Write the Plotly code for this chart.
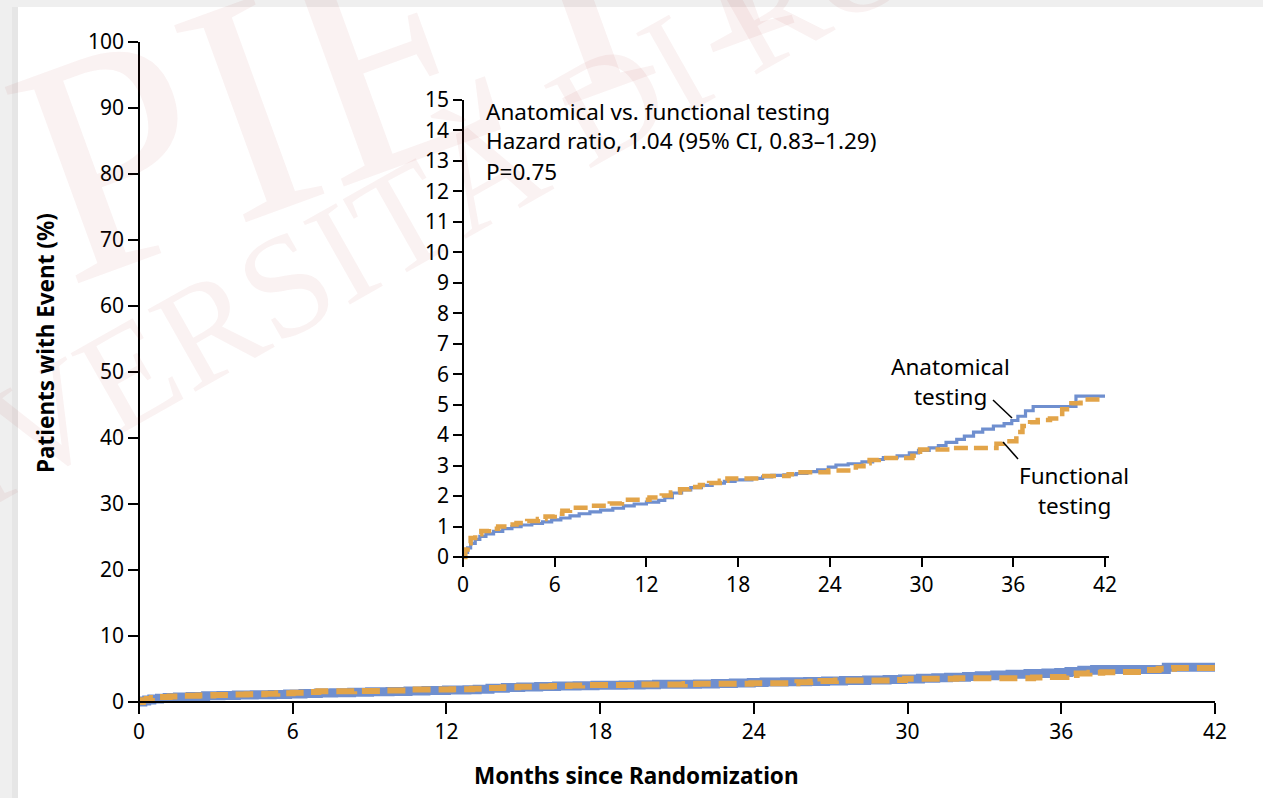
import plotly.graph_objects as go

# ---------------- data ----------------
months_anatomical = [0, 0.15, 0.3, 0.5, 0.8, 1.1, 1.5, 2.0, 2.6, 3.2,
                     3.8, 4.5, 5.2, 5.8, 6.4, 7.0, 7.6, 8.3, 9.0, 9.8,
                     10.5, 11.2, 12.0, 12.8, 13.2, 13.7, 14.3, 14.9, 15.6, 16.3,
                     17.1, 17.8, 18.9, 19.6, 20.2, 21.0, 21.8, 22.5, 23.2, 23.9,
                     24.4, 25.2, 26.1, 26.8, 27.5, 28.4, 29.2, 29.8, 30.5, 31.1,
                     31.6, 32.3, 32.8, 33.4, 34.0, 34.7, 35.4, 35.9, 36.3, 36.8,
                     37.3, 40.1, 42.0]
pct_anatomical = [0, 0.15, 0.3, 0.45, 0.58, 0.68, 0.76, 0.84, 0.93, 1.0,
                  1.05, 1.1, 1.15, 1.22, 1.28, 1.35, 1.42, 1.48, 1.54, 1.6,
                  1.68, 1.74, 1.8, 1.86, 1.95, 2.1, 2.2, 2.28, 2.35, 2.42,
                  2.48, 2.53, 2.58, 2.63, 2.68, 2.7, 2.74, 2.8, 2.86, 2.95,
                  3.02, 3.06, 3.12, 3.2, 3.26, 3.32, 3.42, 3.5, 3.58, 3.66,
                  3.76, 3.86, 3.97, 4.1, 4.2, 4.3, 4.38, 4.48, 4.62, 4.8,
                  4.94, 5.28, 5.28]

months_functional = [0, 0.15, 0.3, 0.5, 0.8, 1.2, 1.7, 2.3, 2.9, 3.5,
                     4.2, 4.9, 5.4, 6.0, 6.5, 7.0, 8.4, 9.6, 10.4, 12.2,
                     13.0, 13.6, 14.2, 14.8, 15.5, 16.1, 16.8, 17.3, 19.4, 21.3,
                     21.8, 23.9, 25.7, 26.2, 26.6, 27.2, 29.4, 29.9, 31.9, 34.9,
                     35.3, 36.2, 36.6, 37.1, 37.6, 38.4, 39.2, 39.8, 40.4, 42.0]
pct_functional = [0, 0.25, 0.45, 0.62, 0.75, 0.85, 0.93, 1.0, 1.07, 1.12,
                  1.18, 1.25, 1.33, 1.42, 1.52, 1.62, 1.68, 1.76, 1.88, 1.95,
                  2.02, 2.12, 2.22, 2.3, 2.36, 2.43, 2.5, 2.58, 2.66, 2.72,
                  2.78, 2.84, 2.98, 3.08, 3.18, 3.25, 3.32, 3.53, 3.58, 3.72,
                  3.8, 4.1, 4.3, 4.42, 4.5, 4.55, 4.85, 5.05, 5.17, 5.17]

x_ticks = [0, 6, 12, 18, 24, 30, 36, 42]
main_y_ticks = [0, 10, 20, 30, 40, 50, 60, 70, 80, 90, 100]
inset_y_ticks = list(range(0, 16))

stats_lines = ["Anatomical vs. functional testing",
               "Hazard ratio, 1.04 (95% CI, 0.83\u20131.29)",
               "P=0.75"]

# ---------------- style ----------------
W, H = 1263, 798
BLUE = "#6f8fcf"
ORANGE = "#e2a449"
FONT = "Noto Sans"
WM_COLOR = "rgba(170,40,40,0.06)"


def fx(px):
    return px / W


def fy(py):
    return 1 - py / H


fig = go.Figure()

# main curves
fig.add_trace(go.Scatter(x=months_anatomical, y=pct_anatomical, mode="lines",
                         line=dict(color=BLUE, width=9, shape="hv"),
                         xaxis="x", yaxis="y", hoverinfo="skip", showlegend=False))
fig.add_trace(go.Scatter(x=months_functional, y=pct_functional, mode="lines",
                         line=dict(color=ORANGE, width=6, shape="hv", dash="18px,8px"),
                         xaxis="x", yaxis="y", hoverinfo="skip", showlegend=False))
# inset curves
fig.add_trace(go.Scatter(x=months_anatomical, y=pct_anatomical, mode="lines",
                         line=dict(color=BLUE, width=3.2, shape="hv"),
                         xaxis="x2", yaxis="y2", hoverinfo="skip", showlegend=False))
fig.add_trace(go.Scatter(x=months_functional, y=pct_functional, mode="lines",
                         line=dict(color=ORANGE, width=4.5, shape="hv", dash="14px,6px"),
                         xaxis="x2", yaxis="y2", hoverinfo="skip", showlegend=False))

tickfont = dict(family=FONT, size=21, color="black")

# main axes: x 0 at px139, 42 at px1215 ; y 0 at py702, 100 at py42
mx0, mx1 = 129, 1215
x_ppu = (1215 - 139) / 42
my_top, my_bot = 42, 711
y_ppu = (702 - 42) / 100

# inset axes: x 0 at 463, 42 at 1105 ; y 0 at 557, 15 at 100
ix_ppu = (1105 - 463) / 42
iy_ppu = (557 - 100) / 15
ix0, ix1 = 461, 1109
iy_top, iy_bot = 100, 560

common = dict(ticks="outside", tickwidth=1.5, tickcolor="black", showline=True,
              linecolor="black", linewidth=1.5, showgrid=False, zeroline=False,
              tickfont=tickfont, automargin=False, fixedrange=True)

fig.update_layout(
    template="none",
    width=W, height=H, autosize=False,
    margin=dict(l=0, r=0, t=0, b=0, pad=0, autoexpand=False),
    paper_bgcolor="#efefef", plot_bgcolor="rgba(0,0,0,0)",
    font=dict(family=FONT, color="black"),
    showlegend=False,
    xaxis=dict(domain=[fx(mx0), fx(mx1)],
               range=[-(139 - mx0) / x_ppu, 42 + (mx1 - 1215) / x_ppu],
               anchor="free", position=fy(702), tickvals=x_ticks, ticklen=11, **common),
    yaxis=dict(domain=[fy(my_bot), fy(my_top)],
               range=[-(my_bot - 702) / y_ppu, 100],
               anchor="free", position=fx(139), tickvals=main_y_ticks, ticklen=10, **common),
    xaxis2=dict(domain=[fx(ix0), fx(ix1)],
                range=[-(463 - ix0) / ix_ppu, 42 + (ix1 - 1105) / ix_ppu],
                anchor="free", position=fy(557), tickvals=x_ticks, ticklen=9, **common),
    yaxis2=dict(domain=[fy(iy_bot), fy(iy_top)],
                range=[-(iy_bot - 557) / iy_ppu, 15],
                anchor="free", position=fx(463), tickvals=inset_y_ticks, ticklen=9, **common),
)

shapes = [
    # white page panel with soft left shadow
    dict(type="rect", xref="paper", yref="paper", x0=fx(12), x1=fx(18), y0=0, y1=fy(7),
         fillcolor="#e6e6e6", line=dict(width=0), layer="below"),
    dict(type="rect", xref="paper", yref="paper", x0=fx(18), x1=1, y0=0, y1=fy(7),
         fillcolor="white", line=dict(width=0), layer="below"),
    # leader lines
    dict(type="line", xref="paper", yref="paper", x0=fx(993), y0=fy(400), x1=fx(1012), y1=fy(418),
         line=dict(color="black", width=1.5)),
    dict(type="line", xref="paper", yref="paper", x0=fx(1003), y0=fy(442), x1=fx(1018), y1=fy(459),
         line=dict(color="black", width=1.5)),
]
fig.update_layout(shapes=shapes)

ann = []
# faint watermark
ann.append(dict(text="PIETRO", x=fx(557), y=fy(-6), xref="paper", yref="paper", showarrow=False,
                xanchor="center", yanchor="middle", textangle=-20,
                font=dict(family="Liberation Serif", size=320, color=WM_COLOR)))
ann.append(dict(text="UNIVERSITÀ DI ROMA", x=fx(440), y=fy(197), xref="paper", yref="paper",
                showarrow=False, xanchor="center", yanchor="middle", textangle=-29.5,
                font=dict(family="Liberation Serif", size=145, color=WM_COLOR)))

for i, line in enumerate(stats_lines):
    ann.append(dict(text=line, x=fx(484), y=fy(111 + 30 * i), xref="paper", yref="paper",
                    xanchor="left", yanchor="middle", showarrow=False,
                    font=dict(family=FONT, size=22.5, color="black")))

for txt, cx, cy in [("Anatomical", 951, 366), ("testing", 951, 396),
                    ("Functional", 1074, 475), ("testing", 1074, 505)]:
    ann.append(dict(text=txt, x=fx(cx), y=fy(cy), xref="paper", yref="paper",
                    xanchor="center", yanchor="middle", showarrow=False,
                    font=dict(family=FONT, size=22.5, color="black")))

ann.append(dict(text="<b>Patients with Event (%)</b>", x=fx(45), y=fy(343), xref="paper", yref="paper",
                textangle=-90, showarrow=False, xanchor="center", yanchor="middle",
                font=dict(family=FONT, size=22.5, color="black")))
ann.append(dict(text="<b>Months since Randomization</b>", x=fx(636), y=fy(775), xref="paper", yref="paper",
                showarrow=False, xanchor="center", yanchor="middle",
                font=dict(family=FONT, size=22.5, color="black")))
fig.update_layout(annotations=ann)

fig.write_html("out.html", config={"displayModeBar": False},
               post_script="document.body.style.margin='0px';document.body.style.overflow='hidden';")
